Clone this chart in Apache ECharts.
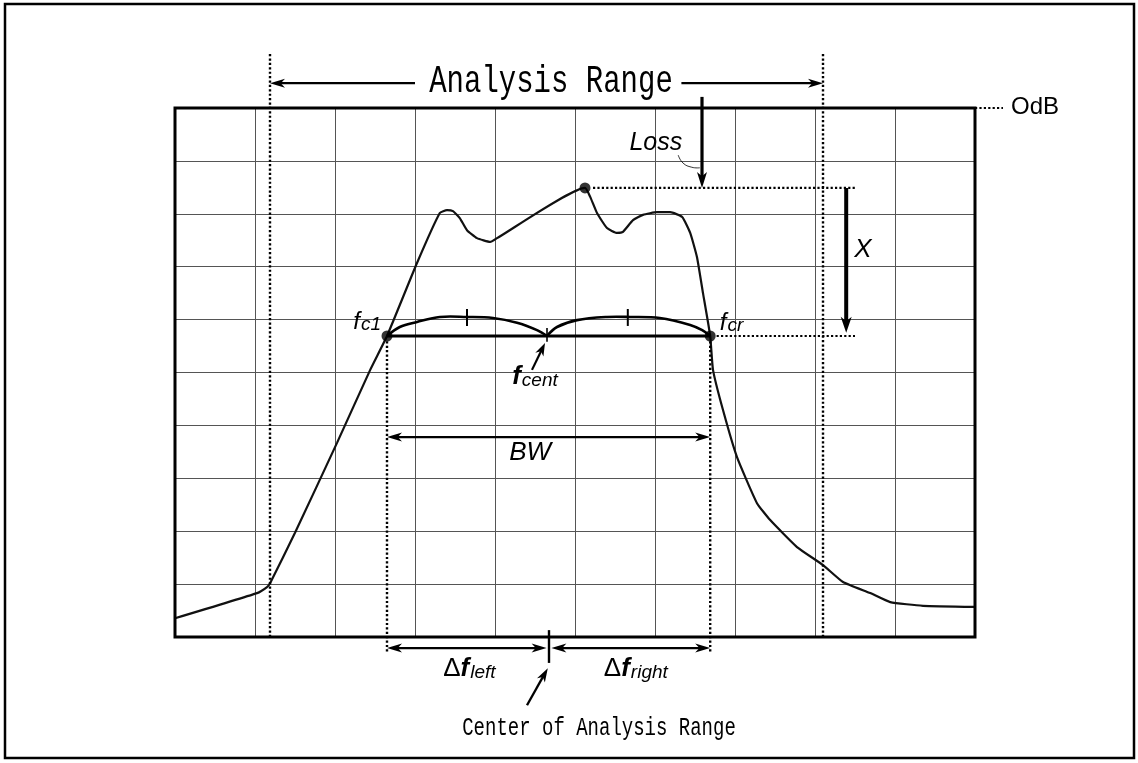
<!DOCTYPE html>
<html><head><meta charset="utf-8">
<script src="https://cdn.jsdelivr.net/npm/echarts@6/dist/echarts.min.js"></script>
<style>html,body{margin:0;padding:0;background:#fff}#c{width:1138px;height:763px}</style>
</head><body><div id="c"></div>
<script>
// ---- DATA (x: horizontal divisions 0..10, y: vertical divisions, 0 = reference level "OdB") ----
const curveX = [0, 1.025, 1.15, 1.19, 1.5, 2.025, 2.44, 2.65, 3.025, 3.31, 3.4, 3.475, 3.56, 3.65, 3.775, 3.94, 4.025, 5.125, 5.19, 5.275, 5.4, 5.525, 5.6, 5.725, 5.85, 6.025, 6.19, 6.34, 6.44, 6.525, 6.6, 6.69, 6.725, 6.85, 7.025, 7.275, 7.44, 7.775, 8.1, 8.35, 8.69, 8.94, 9.35, 10];
const curveY = [-9.645, -9.17, -9.055, -8.98, -8.03, -6.33, -4.95, -4.31, -2.93, -1.985, -1.93, -1.95, -2.08, -2.31, -2.46, -2.53, -2.46, -1.51, -1.68, -1.985, -2.27, -2.36, -2.34, -2.12, -2.02, -1.97, -1.97, -2.06, -2.36, -2.82, -3.5, -4.31, -4.95, -5.71, -6.6, -7.47, -7.79, -8.3, -8.64, -8.96, -9.17, -9.34, -9.41, -9.43];
const markerX = [2.65, 5.125, 6.69];   // fc1, peak, fcr
const markerY = [-4.31, -1.51, -4.31];
const centX = 4.65;                     // fcent
const leftArcX = [2.65, 2.81, 3.025, 3.31, 3.65, 3.975, 4.275, 4.525, 4.65];
const leftArcY = [-4.31, -4.14, -4.045, -3.95, -3.95, -3.97, -4.06, -4.2, -4.31];
const rightArcX = [4.65, 4.775, 5.025, 5.4, 5.69, 6.06, 6.44, 6.59, 6.69];
const rightArcY = [-4.31, -4.14, -4.01, -3.95, -3.95, -3.97, -4.1, -4.2, -4.31];
const arcTickX = [3.65, 5.66];
const rangeX = [1.1875, 8.1];           // analysis range limits
const rangeCenterX = 4.675;             // centre of analysis range
const refY = 0;                         // 0 dB reference
const xRows = 10, yRows = 10;

// ---- labels ----
const txtRange = 'Analysis Range';
const txtCenter = 'Center of Analysis Range';
const txtRef = 'OdB';
const txtLoss = 'Loss';
const txtX = 'X';
const txtBW = 'BW';

const chart = echarts.init(document.getElementById('c'), null, {renderer: 'canvas'});
const curve = curveX.map((x, i) => [x, curveY[i]]);
const markers = markerX.map((x, i) => [x, markerY[i]]);
const sans = "'Liberation Sans', Arial, sans-serif";
const mono = "'Liberation Mono', 'DejaVu Sans Mono', monospace";

function renderAnn(params, api) {
  const P = (x, y) => api.coord([x, y]);
  const els = [];
  const line = (a, b, w, dash) => els.push({type: 'line', shape: {x1: a[0], y1: a[1], x2: b[0], y2: b[1]},
    style: {stroke: '#000', lineWidth: w, lineDash: dash || null, lineCap: 'butt'}});
  const head = (tip, from, L, W) => {
    const dx = tip[0] - from[0], dy = tip[1] - from[1], d = Math.hypot(dx, dy);
    const ux = dx / d, uy = dy / d, nx = -uy, ny = ux;
    const bx = tip[0] - ux * L, by = tip[1] - uy * L;
    els.push({type: 'polygon', shape: {points: [tip, [bx + nx * W, by + ny * W], [tip[0] - ux * L * 0.72, tip[1] - uy * L * 0.72], [bx - nx * W, by - ny * W]]},
      style: {fill: '#000'}});
  };
  const arrow = (a, b, w, both, L, W) => {
    L = L || 15; W = W || 4.5;
    const dx = b[0] - a[0], dy = b[1] - a[1], d = Math.hypot(dx, dy), ux = dx / d, uy = dy / d;
    const a2 = both ? [a[0] + ux * L * 0.6, a[1] + uy * L * 0.6] : a;
    const b2 = [b[0] - ux * L * 0.6, b[1] - uy * L * 0.6];
    line(a2, b2, w);
    head(b, a, L, W);
    if (both) head(a, b, L, W);
  };
  const dot = [2.2, 2.2];
  const text = (p, t, font, align, va, extra) => els.push(Object.assign({type: 'text', x: p[0], y: p[1],
    style: {text: t, font: font, fill: '#000', align: align || 'center', verticalAlign: va || 'middle'}}, extra || {}));

  // inner frame
  const tl = P(0, 0), br = P(xRows, -yRows);
  els.push({type: 'rect', shape: {x: tl[0], y: tl[1], width: br[0] - tl[0], height: br[1] - tl[1]},
    style: {fill: null, stroke: '#000', lineWidth: 3}});

  // analysis range dotted limits + arrow
  rangeX.forEach(x => line(P(x, 1.02), P(x, -yRows), 2.4, dot));
  arrow(P(3.0, 0.47), P(rangeX[0], 0.47), 2.2);
  arrow(P(6.33, 0.47), P(rangeX[1], 0.47), 2.2);
  text(P(4.7, 0.49), txtRange, '29px ' + mono, 'center', 'middle', {scaleY: 1.35});

  // 0 dB reference
  line(P(xRows, refY), P(10.35, refY), 2.2, dot);
  text(P(10.45, refY + 0.02), txtRef, '24px ' + sans, 'left', 'middle');

  // loss arrow
  arrow(P(6.5875, 0.21), P(6.5875, markerY[1]), 3.2, false, 16, 5);
  els.push({type: 'polyline', shape: {points: [P(6.29, -0.89), P(6.35, -1.04), P(6.46, -1.12), P(6.56, -1.13)], smooth: 0.5},
    style: {stroke: '#000', lineWidth: 0.8, fill: null}});
  text(P(6.01, -0.66), txtLoss, 'italic 25px ' + sans, 'center', 'middle');

  // dotted level lines & X arrow
  line(P(markerX[1] + 0.1, markerY[1]), P(8.5, markerY[1]), 2.2, dot);
  line(P(markerX[2] + 0.08, markerY[2]), P(8.5, markerY[2]), 2.2, dot);
  arrow(P(8.39, markerY[1]), P(8.39, -4.25), 4, false, 16, 5.5);
  text(P(8.6, -2.68), txtX, 'italic 26px ' + sans, 'center', 'middle');

  // fc line, arcs and ticks
  line(P(markerX[0], markerY[0]), P(markerX[2], markerY[2]), 3);
  [[leftArcX, leftArcY], [rightArcX, rightArcY]].forEach(([xs, ys]) => {
    els.push({type: 'polyline', shape: {points: xs.map((x, i) => P(x, ys[i])), smooth: 0.35},
      style: {stroke: '#000', lineWidth: 2.6, fill: null}});
  });
  arcTickX.forEach(x => line(P(x, -3.8), P(x, -4.12), 2));
  line(P(centX, -4.16), P(centX, -4.42), 1.6);
  arrow(P(4.4625, -4.95), P(4.625, -4.44), 2.2, false, 13, 4.5);

  // fc dotted verticals
  [markerX[0], markerX[2]].forEach(x => line(P(x, markerY[0] - 0.1), P(x, -10.28), 2.4, dot));

  // BW arrow
  arrow(P(markerX[0], -6.22), P(markerX[2], -6.22), 2.2, true);
  text(P(4.44, -6.52), txtBW, 'italic 26px ' + sans, 'center', 'middle');

  // delta f arrows
  arrow(P(markerX[0], -10.21), P(rangeCenterX - 0.03, -10.21), 2.4, true);
  arrow(P(rangeCenterX + 0.03, -10.21), P(markerX[2], -10.21), 2.4, true);
  line(P(rangeCenterX, -9.87), P(rangeCenterX, -10.49), 2.4);
  arrow(P(4.4, -11.29), P(4.66, -10.59), 2.4, false, 14, 4.5);
  text(P(5.3, -11.72), txtCenter, '19px ' + mono, 'center', 'middle', {scaleY: 1.4});

  // rich labels
  const rich = (p, parts, align) => els.push({type: 'text', x: p[0], y: p[1], style: {
    text: parts.map(([k, t]) => '{' + k + '|' + t + '}').join(''), align: align, verticalAlign: 'bottom', fill: '#000',
    rich: {
      fi: {font: 'italic 24px ' + sans, verticalAlign: 'bottom', fill: '#000'},
      fb: {font: 'italic bold 26px ' + sans, verticalAlign: 'bottom', fill: '#000'},
      d: {font: '26px ' + sans, verticalAlign: 'bottom', fill: '#000'},
      s: {font: 'italic 19px ' + sans, verticalAlign: 'bottom', fill: '#000', padding: [0, 0, 0, 1]}
    }}});
  rich(P(2.575, -4.27), [['fi', 'f'], ['s', 'c1']], 'right');
  rich(P(6.81, -4.29), [['fi', 'f'], ['s', 'cr']], 'left');
  rich(P(4.5, -5.33), [['fb', 'f'], ['s', 'cent']], 'center');
  rich(P(3.68, -10.85), [['d', 'Δ'], ['fb', 'f'], ['s', 'left']], 'center');
  rich(P(5.76, -10.85), [['d', 'Δ'], ['fb', 'f'], ['s', 'right']], 'center');
  return {type: 'group', children: els};
}

const hidden = {axisLabel: {show: false}, axisTick: {show: false}, axisLine: {show: false},
  splitLine: {show: true, lineStyle: {color: '#555', width: 1}}};
chart.setOption({
  animation: false,
  backgroundColor: '#fff',
  grid: {left: 175, top: 108, width: 800, height: 529, show: false},
  xAxis: Object.assign({type: 'value', min: 0, max: xRows, interval: 1}, hidden),
  yAxis: Object.assign({type: 'value', min: -yRows, max: 0, interval: 1}, hidden),
  graphic: [{type: 'rect', shape: {x: 5, y: 4, width: 1129, height: 754}, style: {fill: null, stroke: '#000', lineWidth: 2.5}, z: 100}],
  series: [
    {type: 'line', data: curve, showSymbol: false, smooth: 0.15, lineStyle: {color: '#111', width: 2.2}, z: 3, clip: true},
    {type: 'custom', coordinateSystem: 'cartesian2d', data: [[0, 0]], renderItem: renderAnn, clip: false, silent: true, z: 4},
    {type: 'scatter', data: markers, symbolSize: 11, itemStyle: {color: '#000'}, z: 6}
  ]
});
</script></body></html>
